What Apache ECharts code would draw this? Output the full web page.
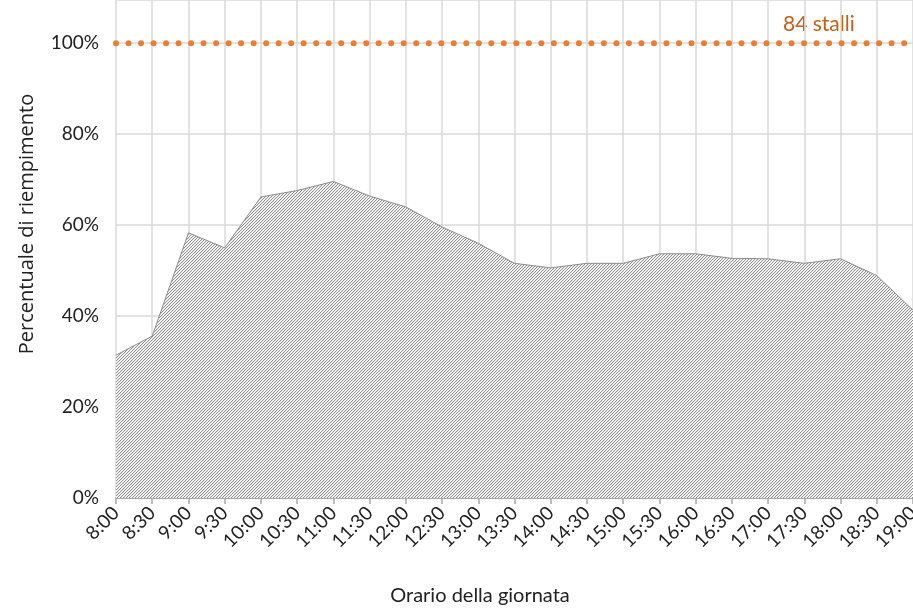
<!DOCTYPE html>
<html>
<head>
<meta charset="utf-8">
<script src="https://cdn.jsdelivr.net/npm/echarts@6/dist/echarts.min.js"></script>
<style>html,body{margin:0;padding:0;background:#fff}#c{width:913px;height:609px}</style>
</head>
<body>
<div id="c"></div>
<script>
const categories = ['8:00','8:30','9:00','9:30','10:00','10:30','11:00','11:30','12:00','12:30','13:00','13:30','14:00','14:30','15:00','15:30','16:00','16:30','17:00','17:30','18:00','18:30','19:00'];
const occupancy = [31.4,35.6,58.3,55.0,66.2,67.6,69.6,66.4,64.0,59.6,56.0,51.6,50.6,51.6,51.6,53.7,53.7,52.7,52.6,51.6,52.6,48.9,41.3];
const capacity = categories.map(() => 100);
const capacityLabel = '84 stalli';
const yTicks = [0,20,40,60,80,100];
const yAxisTitle = 'Percentuale di riempimento';
const xAxisTitle = 'Orario della giornata';

// hatch pattern tile
const tile = document.createElement('canvas');
tile.width = 3; tile.height = 3;
const tctx = tile.getContext('2d');
const img = tctx.createImageData(3,3);
for (let y=0;y<3;y++) for (let x=0;x<3;x++) {
  const i=(y*3+x)*4;
  const d = (x + y) % 3;
  let v = 255;
  if (d === 2) v = 140; else if (d === 0) v = 236;
  img.data[i]=v; img.data[i+1]=v; img.data[i+2]=v; img.data[i+3]=255;
}
tctx.putImageData(img,0,0);

const FONT = 'Lato';
const chart = echarts.init(document.getElementById('c'), null, {renderer:'canvas'});
chart.setOption({
  animation: false,
  backgroundColor: '#fff',
  grid: {left:116, right:0, top:0, bottom:111, containLabel:false, outerBoundsMode:'none'},
  xAxis: {
    type: 'category', data: categories, boundaryGap: false,
    axisLine: {show:true, lineStyle:{color:'#A6A6A6', width:2}},
    axisTick: {show:true, length:6, interval:0, lineStyle:{color:'#A6A6A6', width:1.5}},
    axisLabel: {interval:0, rotate:45, fontFamily:FONT, fontSize:19, color:'#222', margin:12},
    splitLine: {show:true, interval:0, lineStyle:{color:'#D9D9D9', width:1.5}}
  },
  yAxis: {
    type: 'value', min:0, max:109.5, interval:20,
    axisLine:{show:false}, axisTick:{show:false},
    axisLabel: {fontFamily:FONT, fontSize:19, color:'#222', margin:17,
      formatter: v => yTicks.includes(Math.round(v)) && Math.abs(v-Math.round(v))<1e-6 ? v + '%' : ''},
    splitLine: {show:true, lineStyle:{color:'#D9D9D9', width:1.5}}
  },
  series: [
    {
      type:'line', data: occupancy, symbol:'none', z:2,
      lineStyle:{color:'#8C8C8C', width:1},
      areaStyle:{color:{image: tile, repeat:'repeat'}, opacity:1}
    },
    {
      type:'line', data: capacity, symbol:'none', z:3,
      lineStyle:{color:'#ED7D31', width:6, type:[0.01,12.5], cap:'round'}
    }
  ],
  graphic: [
    {type:'text', x:783, y:24, style:{text:capacityLabel, fontFamily:FONT, fontSize:21, fill:'#C65F1A', verticalAlign:'middle'}},
    {type:'text', x:27, y:224, rotation:Math.PI/2, style:{text:yAxisTitle, fontFamily:'Open Sans', fontSize:20, fill:'#222', align:'center', verticalAlign:'middle'}},
    {type:'text', x:480, y:596, style:{text:xAxisTitle, fontFamily:FONT, fontSize:20, fill:'#222', align:'center', verticalAlign:'middle'}}
  ]
});
</script>
</body>
</html>
